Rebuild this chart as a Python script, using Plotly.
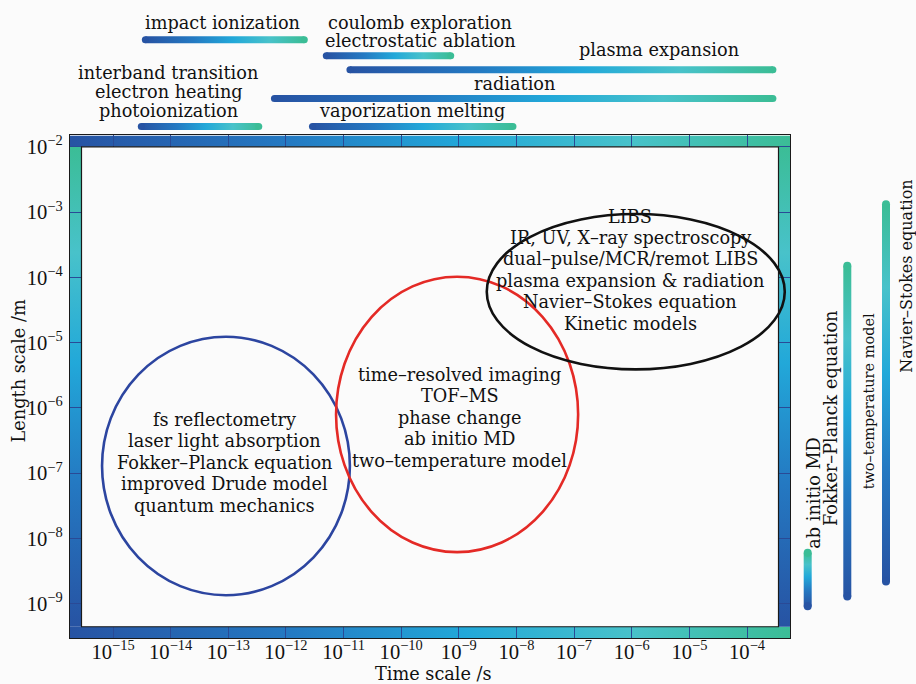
import plotly.graph_objects as go

W, H = 916, 684
FONT = "DejaVu Serif"
TICKFONT = "Liberation Serif"

# ---------------- data ----------------
# axis extents (log10 units)
time_range_log = [-15.746, -3.254]      # s
length_range_log = [-9.529, -1.825]     # m

# processes (top bars): log10 time start / end
process_names = ["impact ionization", "coulomb exploration / electrostatic ablation",
                 "plasma expansion", "radiation",
                 "interband transition / electron heating / photoionization",
                 "vaporization melting"]
process_t_start = [-14.50, -11.36, -10.95, -12.26, -14.57, -11.60]
process_t_end = [-11.62, -9.08, -3.49, -3.49, -12.41, -8.00]

# labels of top bars
top_label_text = ["impact ionization", "coulomb exploration", "electrostatic ablation",
                  "plasma expansion", "radiation", "interband transition",
                  "electron heating", "photoionization", "vaporization melting"]
top_label_t = [-13.10, -9.67, -9.67, -5.53, -8.04, -14.05, -14.02, -14.03, -9.81]

# models (right bars): log10 length low / high
model_names = ["ab initio MD", "Fokker–Planck / two–temperature", "Navier–Stokes"]
model_l_low = [-9.10, -8.95, -8.72]
model_l_high = [-8.16, -3.76, -2.82]

right_label_text = ["ab initio MD", "Fokker–Planck equation", "two–temperature model",
                    "Navier–Stokes equation"]
right_label_l = [-7.30, -6.17, -5.90, -3.99]

# regimes (ellipses) in log10 units
regime_cx = [-13.04, -9.03, -5.93]
regime_rx = [2.15, 2.10, 2.585]
regime_cy = [-6.89, -6.10, -4.22]
regime_ry = [1.98, 2.11, 1.19]
regime_text = [
    ["fs reflectometry", "laser light absorption", "Fokker–Planck equation",
     "improved Drude model", "quantum mechanics"],
    ["time–resolved imaging", "TOF–MS", "phase change", "ab initio MD",
     "two–temperature model"],
    ["LIBS", "IR, UV, X–ray spectroscopy", "dual–pulse/MCR/remot LIBS",
     "plasma expansion & radiation", "Navier–Stokes equation", "Kinetic models"],
]
regime_text_x = [-13.07, -8.98, -6.03]
regime_text_y = [-6.84, -6.153, -3.89]

# ---------------- layout / style constants ----------------
regime_colors = ["#2c45a0", "#e42a26", "#111111"]
CS = [[0.0, "#2753a3"], [0.3, "#2479c2"], [0.55, "#22a8d9"], [0.78, "#48c2ca"], [1.0, "#3bbd96"]]
process_rows = [37, 53, 67, 96, 124, 124]          # pixel rows in the top strip
top_label_rows = [20.0, 20.0, 38.3, 47.3, 81.0, 70.7, 89.3, 108.0, 108.0]
model_cols = [807.7, 847.3, 886.0]                  # pixel columns in right strip
right_label_cols = [814, 831, 869, 907]
right_label_size = [17.7, 17.7, 14.5, 16.0]
TEXT_SIZE = 17.7
LINE_PX = 21.5

PX_DEC_X = 57.64
PX_DEC_Y = 65.55
BAND_PX = 11.5
BX = BAND_PX / PX_DEC_X
BY = BAND_PX / PX_DEC_Y
XMIN, XMAX = time_range_log
YMIN, YMAX = length_range_log

dom_x = [70 / W, 790 / W]
dom_y = [1 - 638 / H, 1 - 133 / H]

fig = go.Figure()


def poly(x0, x1, y0, y1, gtype, xa="x", ya="y"):
    fig.add_trace(go.Scatter(
        x=[x0, x1, x1, x0, x0], y=[y0, y0, y1, y1, y0], mode="lines",
        line=dict(width=0), fill="toself",
        fillgradient=dict(type=gtype, colorscale=CS),
        xaxis=xa, yaxis=ya, hoverinfo="skip", showlegend=False))


# frame bands
poly(10 ** XMIN, 10 ** XMAX, 10 ** (YMAX - BY), 10 ** YMAX, "horizontal")
poly(10 ** XMIN, 10 ** XMAX, 10 ** YMIN, 10 ** (YMIN + BY), "horizontal")
poly(10 ** XMIN, 10 ** (XMIN + BX), 10 ** (YMIN + BY), 10 ** (YMAX - BY), "vertical")
poly(10 ** (XMAX - BX), 10 ** XMAX, 10 ** (YMIN + BY), 10 ** (YMAX - BY), "vertical")

# top process bars
HALF = 3.5
CAPX = HALF / PX_DEC_X
for s, e, r in zip(process_t_start, process_t_end, process_rows):
    xs, xe = 10 ** (s + CAPX), 10 ** (e - CAPX)
    poly(xs, xe, r - HALF, r + HALF, "horizontal", "x2", "y2")
    fig.add_trace(go.Scatter(x=[xs, xe], y=[r, r], mode="markers", xaxis="x2", yaxis="y2",
                             marker=dict(size=2 * HALF, color=[CS[0][1], CS[-1][1]], line=dict(width=0)),
                             hoverinfo="skip", showlegend=False))

# right model bars
VHALF = 4.0
CAPY = VHALF / PX_DEC_Y
for lo, hi, c in zip(model_l_low, model_l_high, model_cols):
    ys, ye = 10 ** (lo + CAPY), 10 ** (hi - CAPY)
    poly(c - VHALF, c + VHALF, ys, ye, "vertical", "x3", "y3")
    fig.add_trace(go.Scatter(x=[c, c], y=[ys, ye], mode="markers", xaxis="x3", yaxis="y3",
                             marker=dict(size=2 * VHALF, color=[CS[0][1], CS[-1][1]], line=dict(width=0)),
                             hoverinfo="skip", showlegend=False))

shapes = []
# inner frame border
shapes.append(dict(type="rect", xref="x", yref="y", x0=10 ** (XMIN + BX), x1=10 ** (XMAX - BX),
                   y0=10 ** (YMIN + BY), y1=10 ** (YMAX - BY), line=dict(color="#1a1a1a", width=1.2),
                   layer="above"))
# ellipses
for cx, rx, cy, ry, col in zip(regime_cx, regime_rx, regime_cy, regime_ry, regime_colors):
    shapes.append(dict(type="circle", xref="x", yref="y", x0=10 ** (cx - rx), x1=10 ** (cx + rx),
                       y0=10 ** (cy - ry), y1=10 ** (cy + ry), line=dict(color=col, width=2.6),
                       layer="above"))

annotations = []
dy = LINE_PX / PX_DEC_Y
for lines, tx, ty in zip(regime_text, regime_text_x, regime_text_y):
    n = len(lines)
    for i, line in enumerate(lines):
        annotations.append(dict(xref="x", yref="y", x=tx, y=ty + ((n - 1) / 2 - i) * dy, text=line,
                                showarrow=False, font=dict(family=FONT, size=TEXT_SIZE, color="#111")))
for t, tx, ty in zip(top_label_text, top_label_t, top_label_rows):
    annotations.append(dict(xref="x2", yref="y2", x=tx, y=ty, text=t, showarrow=False,
                            font=dict(family=FONT, size=TEXT_SIZE, color="#111")))
for t, cx, ly, sz in zip(right_label_text, right_label_cols, right_label_l, right_label_size):
    annotations.append(dict(xref="x3", yref="y3", x=cx, y=ly, text=t, showarrow=False, textangle=-90,
                            font=dict(family=FONT, size=sz, color="#111")))
# axis titles
annotations.append(dict(xref="paper", yref="paper", x=433 / W, y=1 - 674 / H, text="Time scale /s",
                        xanchor="center", yanchor="middle",
                        showarrow=False, font=dict(family=FONT, size=TEXT_SIZE, color="#111")))
annotations.append(dict(xref="paper", yref="paper", x=19 / W, y=1 - 370 / H, text="Length scale /m",
                        xanchor="center", yanchor="middle",
                        showarrow=False, textangle=-90, font=dict(family=FONT, size=TEXT_SIZE, color="#111")))

axis_common = dict(type="log", dtick=1, exponentformat="power", showexponent="all",
                   ticks="inside", ticklen=BAND_PX, tickwidth=1, tickcolor="#2a4a96",
                   mirror="ticks", showline=True, linecolor="#1a1a1a", linewidth=1,
                   showgrid=False, zeroline=False,
                   tickfont=dict(family=TICKFONT, size=16.5, color="#111"))

fig.update_layout(
    width=W, height=H, autosize=False,
    margin=dict(l=0, r=0, t=0, b=0),
    paper_bgcolor="#fbfbfb", plot_bgcolor="#fbfbfb",
    showlegend=False, hovermode=False,
    xaxis=dict(domain=dom_x, anchor="y", range=[XMIN, XMAX], ticklabelstandoff=-4, **axis_common),
    yaxis=dict(domain=dom_y, anchor="x", range=[YMIN, YMAX], ticklabelstandoff=3, **axis_common),
    xaxis2=dict(domain=dom_x, anchor="y2", type="log", range=[XMIN, XMAX], visible=False),
    yaxis2=dict(domain=[1 - 133 / H, 1], anchor="x2", range=[133, 0], visible=False),
    xaxis3=dict(domain=[790 / W, 1], anchor="y3", range=[790, 916], visible=False),
    yaxis3=dict(domain=dom_y, anchor="x3", type="log", range=[YMIN, YMAX], visible=False),
    shapes=shapes, annotations=annotations,
)

fig.write_html("out.html", config={"displayModeBar": False},
               post_script="document.body.style.margin='0';document.body.style.overflow='hidden';")
